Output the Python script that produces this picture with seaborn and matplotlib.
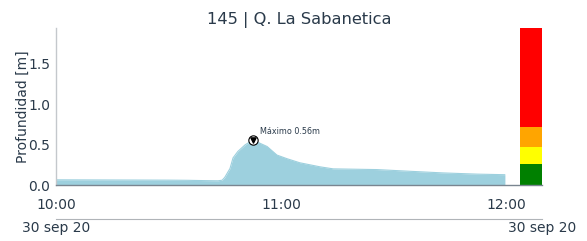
import numpy as np
import pandas as pd
import matplotlib
matplotlib.use("Agg")
import matplotlib.pyplot as plt
import matplotlib.dates as mdates
import seaborn as sns

# minutes after 10:00 and water depth [m]
minutes = [0, 15, 30, 35, 39.7, 43.2, 44.3, 45, 46.4, 47.2, 48.5, 50.4, 52.5,
           56.3, 58.9, 61.6, 65, 70.4, 73.9, 85.6, 94.4, 103.2, 112.3, 119.7]
depth = [0.07, 0.068, 0.066, 0.064, 0.06, 0.058, 0.065, 0.10, 0.21, 0.34, 0.42,
         0.50, 0.56, 0.48, 0.375, 0.33, 0.28, 0.23, 0.205, 0.196, 0.175, 0.155,
         0.14, 0.133]

# alert levels (stacked bar)
level_tops = [0.26, 0.47, 0.72, 1.94]
level_colors = ["#008000", "#ffff00", "#ffa500", "#ff0000"]

title = "145 | Q. La Sabanetica"
date_label = "30 sep 20"

TEXT = "#2a3a4a"
FILL = "#9dd0de"

t0 = pd.Timestamp("2020-09-30 10:00")
df = pd.DataFrame({"time": [t0 + pd.Timedelta(minutes=m) for m in minutes],
                   "depth": depth})

sns.set_style("white")
fig = plt.figure(figsize=(5.87, 2.41), dpi=100)
ax = fig.add_axes([0.0954, 0.2303, 0.828, 0.6535])

sns.lineplot(data=df, x="time", y="depth", ax=ax, color=FILL, linewidth=0.8)
ax.fill_between(df["time"], df["depth"], color=FILL, linewidth=0)

# alert level bar
bar_start = t0 + pd.Timedelta(minutes=123.6)
bar_end = t0 + pd.Timedelta(minutes=129.6)
width = (bar_end - bar_start) / pd.Timedelta(days=1)
bottom = 0
for top, c in zip(level_tops, level_colors):
    ax.bar(mdates.date2num(bar_start), top - bottom, bottom=bottom, width=width,
           align="edge", color=c, linewidth=0)
    bottom = top

# peak marker
i = int(np.argmax(depth))
pt = df["time"][i]
ax.scatter([pt], [depth[i]], s=45, marker="o", facecolor="white",
           edgecolor="black", linewidth=0.8, zorder=5)
ax.scatter([pt], [depth[i] + 0.003], s=14, marker="v", color="black", zorder=6)
ax.annotate(f"Máximo {depth[i]:.2f}m", (pt, depth[i]), xytext=(5, 4),
            textcoords="offset points", fontsize=5.8, color=TEXT)

ax.set_xlim(t0, bar_end)
ax.set_ylim(0, 1.94)
ax.set_yticks([0, 0.5, 1.0, 1.5])
ax.xaxis.set_major_locator(mdates.HourLocator())
ax.xaxis.set_major_formatter(mdates.DateFormatter("%H:%M"))

ax.set_title(title, fontsize=11.7, color=TEXT, pad=3)
ax.set_xlabel("")
ax.set_ylabel("Profundidad [m]", fontsize=10, color=TEXT, labelpad=-1)
ax.tick_params(axis="both", labelsize=10, colors=TEXT, width=0.6)
ax.tick_params(axis="x", length=0, labelcolor=TEXT, pad=9)
ax.tick_params(axis="y", length=2.5, colors="#b8bec4", labelcolor=TEXT, pad=1.5)

sns.despine(ax=ax)
ax.spines["left"].set_color("#c4c8cc")
ax.spines["left"].set_linewidth(1.0)
ax.spines["bottom"].set_color("#7a8590")
ax.spines["bottom"].set_linewidth(1.0)

# secondary date axis
sec = ax.secondary_xaxis(-0.21)
sec.set_xticks([mdates.date2num(t0), mdates.date2num(bar_end)])
sec.set_xticklabels([date_label, date_label])
sec.tick_params(labelsize=10, length=0, labelcolor=TEXT, pad=1.5)
sec.spines["bottom"].set_color("#b0b4b8")

fig.savefig("out.png", dpi=100)
